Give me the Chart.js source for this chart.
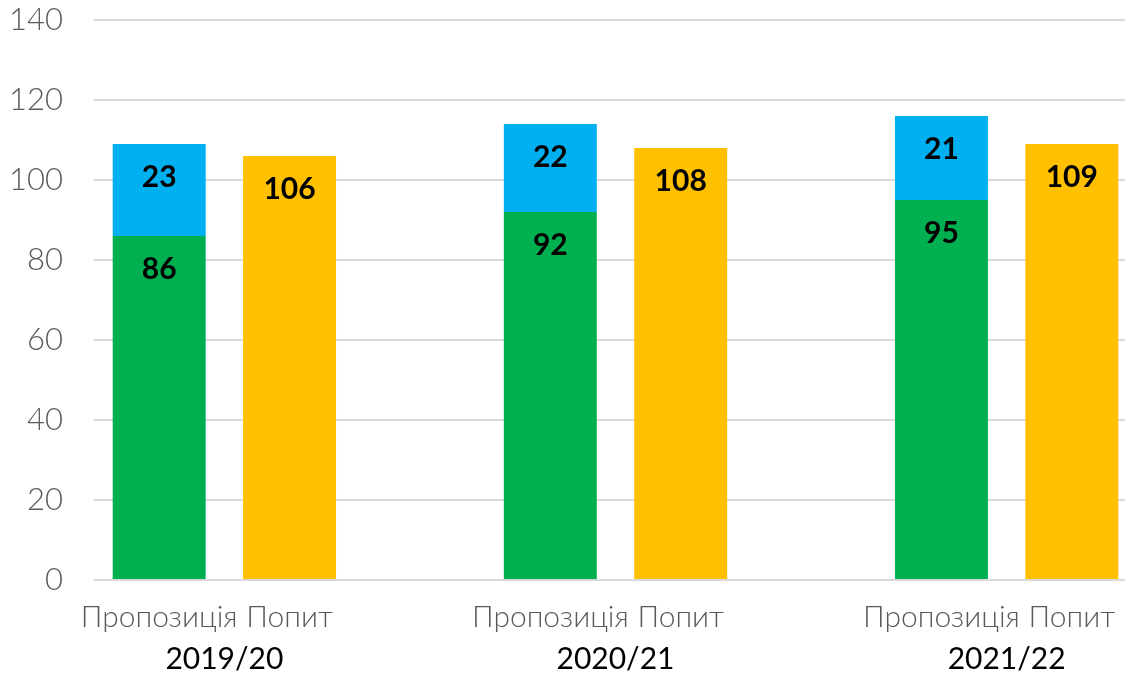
<!DOCTYPE html>
<html>
<head>
<meta charset="utf-8">
<script src="https://cdn.jsdelivr.net/npm/chart.js@4"></script>
<style>
  html, body { margin: 0; padding: 0; background: #fff; overflow: hidden; }
  #wrap { width: 1140px; height: 676px; }
</style>
</head>
<body>
<div id="wrap"><canvas id="chart" width="1140" height="676"></canvas></div>
<script>
// 年度とデータ
const years = ['2019/20', '2020/21', '2021/22'];
const pairLabels = ['Пропозиція', 'Попит'];
const supplyMain = [86, 92, 95];   // 緑
const supplyExtra = [23, 22, 21];  // 青
const demand = [106, 108, 109];    // 黄
const yTicks = [0, 20, 40, 60, 80, 100, 120, 140];

const FONT = "Lato, 'Noto Sans', 'DejaVu Sans', sans-serif";

// 3年度 × (Пропозиція, Попит, 空き) のスロットを組み立てる
const labels = [];
const greenData = [], blueData = [], yellowData = [];
years.forEach((y, i) => {
    labels.push(pairLabels[0], pairLabels[1]);
    greenData.push(supplyMain[i], null);
    blueData.push(supplyExtra[i], null);
    yellowData.push(null, demand[i]);
    if (i < years.length - 1) {
        labels.push('');
        greenData.push(null);
        blueData.push(null);
        yellowData.push(null);
    }
});

// 棒の中に数値を描く
const valueLabels = {
    id: 'valueLabels',
    afterDatasetsDraw(chart) {
        const ctx = chart.ctx;
        ctx.save();
        ctx.font = "bold 30px " + FONT;
        ctx.fillStyle = '#000';
        ctx.textAlign = 'center';
        ctx.textBaseline = 'middle';
        chart.data.datasets.forEach((ds, di) => {
            const meta = chart.getDatasetMeta(di);
            meta.data.forEach((bar, i) => {
                const v = ds.data[i];
                if (v === null || v === undefined) return;
                ctx.fillText(String(v), bar.x, bar.y + 33);
            });
        });
        ctx.restore();
    }
};

// 年度ラベルをペアの中央に描く
const yearLabels = {
    id: 'yearLabels',
    afterDraw(chart) {
        const ctx = chart.ctx;
        const xs = chart.scales.x;
        ctx.save();
        ctx.font = "30px " + FONT;
        ctx.fillStyle = '#000';
        ctx.textAlign = 'center';
        ctx.textBaseline = 'middle';
        years.forEach((y, i) => {
            const x = (xs.getPixelForValue(i * 3) + xs.getPixelForValue(i * 3 + 1)) / 2;
            ctx.fillText(y, x, chart.chartArea.bottom + 79);
        });
        ctx.restore();
    }
};

const barOpts = { barPercentage: 0.713, categoryPercentage: 1 };

new Chart(document.getElementById('chart').getContext('2d'), {
    type: 'bar',
    data: {
        labels: labels,
        datasets: [
            Object.assign({ label: 'green', data: greenData, backgroundColor: '#00B050' }, barOpts),
            Object.assign({ label: 'blue', data: blueData, backgroundColor: '#00B0F0' }, barOpts),
            Object.assign({ label: 'yellow', data: yellowData, backgroundColor: '#FFC000' }, barOpts)
        ]
    },
    options: {
        responsive: false,
        animation: false,
        layout: { padding: { top: 20, right: 3, left: 0, bottom: 0 } },
        plugins: { legend: { display: false }, tooltip: { enabled: false } },
        scales: {
            x: {
                stacked: true,
                grid: { display: false, drawTicks: false },
                border: { display: false },
                ticks: {
                    color: '#595959',
                    font: { family: FONT, size: 30, weight: '300' },
                    padding: 19,
                    maxRotation: 0,
                    autoSkip: false
                },
                afterFit(scale) { scale.height = 96; }
            },
            y: {
                stacked: true,
                min: 0,
                max: 140,
                afterBuildTicks(scale) { scale.ticks = yTicks.map(v => ({ value: v })); },
                grid: { color: '#D9D9D9', lineWidth: 2, drawTicks: false },
                border: { display: false },
                ticks: {
                    color: '#595959',
                    font: { family: FONT, size: 31, weight: '300' },
                    padding: 31
                },
                afterFit(scale) {
                    scale.width = 94;
                    // 目盛りの余白がグラフ上端を押し下げないようにする
                    scale.paddingTop = 0;
                    scale.paddingBottom = 0;
                }
            }
        }
    },
    plugins: [valueLabels, yearLabels]
});
</script>
</body>
</html>
